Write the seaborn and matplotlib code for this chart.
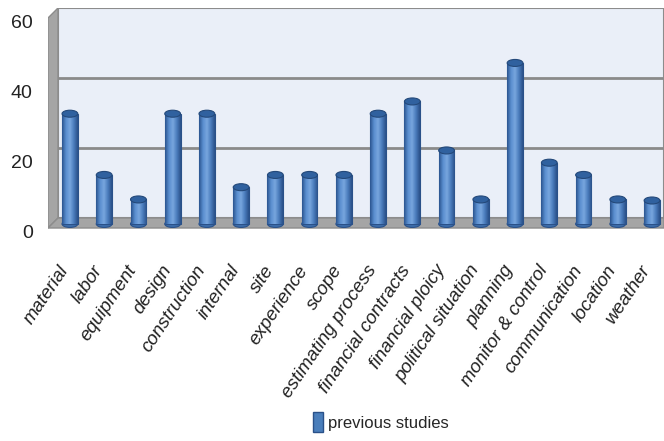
import numpy as np
import matplotlib
matplotlib.use("Agg")
import matplotlib.pyplot as plt
import matplotlib.transforms as mtransforms
from matplotlib.patches import Polygon, Rectangle, Ellipse, Patch
from matplotlib.colors import LinearSegmentedColormap
import seaborn as sns

# data
categories = ["material", "labor", "equipment", "design", "construction", "internal",
              "site", "experience", "scope", "estimating process", "financial contracts",
              "financial ploicy", "political situation", "planning", "monitor & control",
              "communication", "location", "weather"]
values = [31.5, 14, 7, 31.5, 31.5, 10.5, 14, 14, 14, 31.5, 35, 21, 7, 46, 17.5, 14, 7, 6.7]
yticks = [0, 20, 40, 60]
series_name = "previous studies"

sns.set_theme(style="white")
plt.rcParams['font.family'] = ['Liberation Sans Narrow', 'Liberation Sans', 'DejaVu Sans']

W, H = 664, 441
fig = plt.figure(figsize=(W / 100, H / 100), dpi=100)
ax = fig.add_axes([48 / W, 1 - 232 / H, 616 / W, 224 / H])
ax.set_facecolor('none')


def px(x, y):
    # figure pixel -> axes fraction
    return ((x - 48) / 616, (232 - y) / 224)


# fake 3D box: back wall, left wall, floor
ax.add_patch(Rectangle(px(58, 218), 606 / 616, 210 / 224, transform=ax.transAxes,
                       fc='#EAEFF8', ec='#8C8C8C', lw=1.5, zorder=0))
ax.add_patch(Polygon([px(48, 228), px(48, 18), px(58, 8), px(58, 218)], closed=True,
                     transform=ax.transAxes, fc='#A5A5A5', ec='#8C8C8C', lw=1, zorder=1))
ax.add_patch(Polygon([px(48, 228), px(58, 218), px(664, 218), px(664, 228)], closed=True,
                     transform=ax.transAxes, fc='#A5A5A5', ec='#8C8C8C', lw=1, zorder=1))

depth = 1.7  # back wall sits higher than the bars
for v in yticks[1:-1]:
    ax.hlines(v + depth, 10 / 616, 1, transform=ax.get_yaxis_transform(),
              colors='#8A8A8A', lw=2, zorder=0.5)

sns.barplot(x=categories, y=values, color='#4A7EBB', width=0.46, ax=ax,
            edgecolor='#2A5189', linewidth=0.8, zorder=2)

cyl = LinearSegmentedColormap.from_list(
    'cyl', ['#2B5590', '#5A8ECF', '#78A6DE', '#4A7CBC', '#2A5189'])
grad = np.linspace(0, 1, 64).reshape(1, -1)
cap_h = 2.0
bars = list(ax.containers[0])
for p in bars:
    x0, w, h = p.get_x(), p.get_width(), p.get_height()
    ax.add_patch(Ellipse((x0 + w / 2, 0), w, cap_h, fc='#3D6DAA', ec='#2A5189',
                         lw=0.8, zorder=1.8))
    im = ax.imshow(grad, extent=(x0, x0 + w, 0, h), aspect='auto', cmap=cyl, zorder=3)
    im.set_clip_path(p)
    ax.add_patch(Ellipse((x0 + w / 2, h), w, cap_h, fc='#30619F', ec='#24497A',
                         lw=0.8, zorder=4))

ax.set_xlim(-0.64, len(categories) - 1 + 0.35)
ax.set_ylim(-2.3, 61.7)
for s in ax.spines.values():
    s.set_visible(False)

ax.set_yticks(yticks)
ax.set_yticklabels([str(t) for t in yticks], fontsize=14, color='#222222')
ax.tick_params(axis='y', length=0, pad=11)
for lab in ax.get_yticklabels():
    lab.set_transform(lab.get_transform() +
                      mtransforms.ScaledTranslation(0, -8 / 100, fig.dpi_scale_trans))

ax.set_xticks(range(len(categories)))
ax.set_xticklabels(categories, rotation=56, ha='right', rotation_mode='anchor',
                   fontsize=13.5, fontstyle='italic', color='#222222')
ax.tick_params(axis='x', length=0, pad=0)
for lab in ax.get_xticklabels():
    lab.set_va('center')
    lab.set_transform(lab.get_transform() +
                      mtransforms.ScaledTranslation(-5 / 100, -35 / 100, fig.dpi_scale_trans))
ax.set_xlabel('')

handle = Patch(facecolor='#4A7EBB', edgecolor='#2A5189', label=series_name)
fig.legend(handles=[handle], loc='center', bbox_to_anchor=(381 / W, 1 - 422 / H),
           frameon=False, fontsize=12, handlelength=0.6, handleheight=1.4,
           handletextpad=0.3)

fig.savefig('out.png', dpi=100)
